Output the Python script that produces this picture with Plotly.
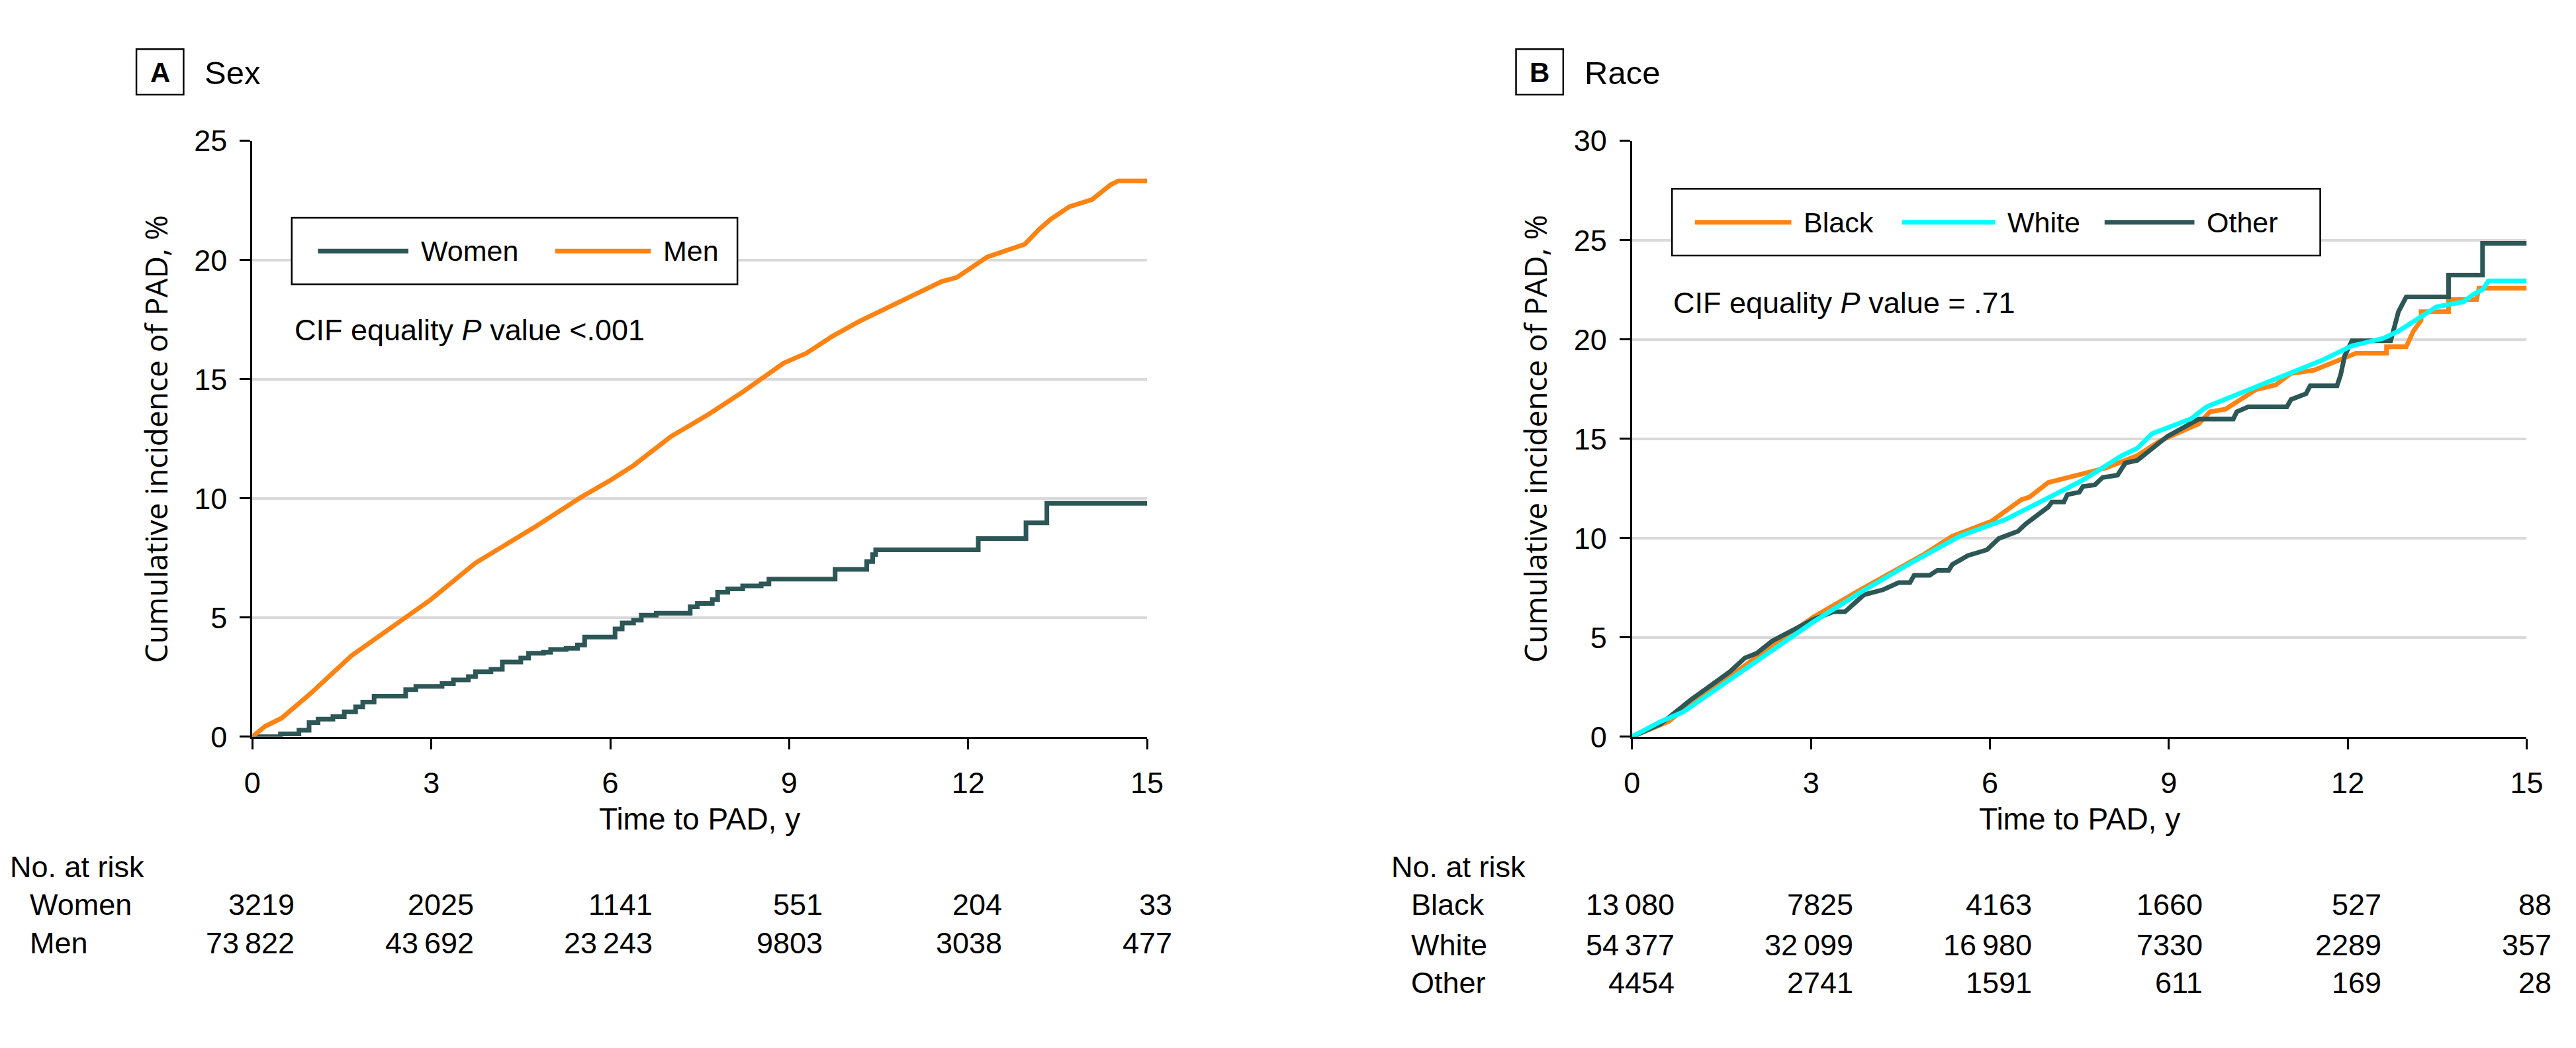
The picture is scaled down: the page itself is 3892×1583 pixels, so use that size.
import plotly.graph_objects as go

# ---------------- data ----------------
women_t = [0, 0.47, 0.78, 0.95, 1.10, 1.35, 1.54, 1.73, 1.85, 2.04, 2.57, 2.74, 3.18, 3.37, 3.62,
           3.74, 4.00, 4.19, 4.50, 4.63, 4.88, 5.00, 5.26, 5.45, 5.57, 6.08, 6.20, 6.39, 6.52, 6.77,
           7.34, 7.46, 7.71, 7.80, 7.97, 8.22, 8.53, 8.66, 9.77, 10.30, 10.40, 10.45, 12.17, 12.97,
           13.32, 15.0]
women_cif = [0, 0.12, 0.27, 0.59, 0.74, 0.84, 1.04, 1.25, 1.45, 1.70, 1.97, 2.11, 2.23, 2.38, 2.52,
             2.72, 2.83, 3.13, 3.30, 3.50, 3.54, 3.66, 3.71, 3.85, 4.18, 4.52, 4.77, 4.89, 5.10, 5.18,
             5.45, 5.59, 5.75, 6.06, 6.20, 6.33, 6.41, 6.61, 7.02, 7.35, 7.64, 7.84, 8.31, 8.97,
             9.79, 9.79]

men_t = [0, 0.21, 0.49, 0.97, 1.66, 2.23, 2.99, 3.74, 4.75, 5.51, 6.01, 6.39, 7.02, 7.65, 8.22,
         8.91, 9.29, 9.73, 10.17, 10.68, 11.56, 11.81, 12.06, 12.32, 12.95, 13.20, 13.39, 13.58,
         13.70, 14.08, 14.39, 14.52, 15.0]
men_cif = [0, 0.43, 0.78, 1.80, 3.40, 4.42, 5.75, 7.29, 8.82, 10.05, 10.77, 11.38, 12.60, 13.53,
           14.46, 15.68, 16.09, 16.81, 17.42, 18.04, 19.10, 19.27, 19.72, 20.13, 20.66, 21.31,
           21.72, 22.03, 22.24, 22.54, 23.16, 23.32, 23.32]

black_t = [0, 0.61, 1.12, 1.51, 2.28, 3.05, 3.83, 4.86, 5.37, 6.02, 6.53, 6.66, 6.98, 7.30, 7.95,
           8.47, 8.85, 9.50, 9.69, 9.95, 10.46, 10.79, 11.04, 11.43, 11.95, 12.14, 12.65, 12.65,
           12.98, 13.10, 13.23, 13.23, 13.69, 13.69, 14.16, 14.20, 15.0]
black_cif = [0, 0.76, 1.99, 2.73, 4.45, 6.04, 7.40, 9.12, 10.10, 10.84, 11.94, 12.06, 12.80, 13.05,
             13.54, 14.15, 14.89, 15.75, 16.36, 16.49, 17.47, 17.71, 18.28, 18.45, 19.07, 19.31,
             19.31, 19.63, 19.63, 20.42, 20.96, 21.40, 21.40, 22.01, 22.01, 22.58, 22.58]

white_t = [0, 0.48, 0.86, 1.51, 2.28, 3.05, 3.83, 4.60, 5.50, 6.28, 6.92, 7.56, 8.21, 8.47, 8.72,
           9.37, 9.63, 10.14, 10.92, 11.56, 12.07, 12.59, 12.85, 13.10, 13.49, 13.94, 14.10, 14.26,
           14.36, 15.0]
white_cif = [0, 0.76, 1.25, 2.60, 4.20, 5.80, 7.27, 8.62, 10.10, 10.96, 11.94, 12.92, 14.15, 14.52,
             15.26, 16.00, 16.61, 17.22, 18.21, 18.94, 19.68, 20.05, 20.42, 20.91, 21.65, 21.89,
             22.26, 22.51, 22.95, 22.95]

other_t = [0, 0.48, 0.99, 1.64, 1.89, 2.09, 2.35, 2.67, 3.05, 3.38, 3.57, 3.89, 4.21, 4.47, 4.66,
           4.73, 4.99, 5.12, 5.31, 5.37, 5.63, 5.95, 6.15, 6.47, 6.60, 6.98, 7.04, 7.24, 7.30, 7.50,
           7.56, 7.76, 7.89, 8.14, 8.27, 8.47, 8.72, 8.98, 9.50, 10.08, 10.14, 10.33, 10.98, 11.05,
           11.30, 11.37, 11.82, 11.88, 11.95, 12.07, 12.72, 12.78, 12.85, 12.98, 13.69, 13.69,
           14.26, 14.26, 15.0]
other_cif = [0, 0.64, 1.87, 3.27, 3.96, 4.20, 4.82, 5.31, 5.92, 6.29, 6.29, 7.15, 7.40, 7.76, 7.76,
             8.13, 8.13, 8.38, 8.38, 8.67, 9.12, 9.41, 9.98, 10.34, 10.71, 11.57, 11.82, 11.82,
             12.19, 12.31, 12.60, 12.68, 13.05, 13.17, 13.78, 13.91, 14.52, 15.13, 15.99, 15.99,
             16.36, 16.61, 16.61, 16.98, 17.27, 17.67, 17.67, 18.21, 19.19, 19.93, 19.93, 20.66,
             21.40, 22.14, 22.14, 23.24, 23.24, 24.84, 24.84]

time_ticks = [0, 3, 6, 9, 12, 15]
sex_groups = ["Women", "Men"]
sex_at_risk = [
    ["3219", "2025", "1141", "551", "204", "33"],
    ["73\u2009822", "43\u2009692", "23\u2009243", "9803", "3038", "477"],
]
race_groups = ["Black", "White", "Other"]
race_at_risk = [
    ["13\u2009080", "7825", "4163", "1660", "527", "88"],
    ["54\u2009377", "32\u2009099", "16\u2009980", "7330", "2289", "357"],
    ["4454", "2741", "1591", "611", "169", "28"],
]

# ---------------- styling ----------------
W, H = 3892, 1583
TEAL = "#2D5656"
ORANGE = "#FF8312"
CYAN = "#00FFFF"
FONT = "Liberation Sans, Arial, sans-serif"
YFONT = "Open Sans, DejaVu Sans, sans-serif"
LW = 7


def px(x):
    return x / W


def py(y):
    return 1 - y / H


fig = go.Figure()
fig.add_trace(go.Scatter(x=women_t, y=women_cif, mode="lines", line=dict(color=TEAL, width=LW, shape="hv"),
                         name="Women", showlegend=False, xaxis="x", yaxis="y"))
fig.add_trace(go.Scatter(x=men_t, y=men_cif, mode="lines", line=dict(color=ORANGE, width=LW),
                         name="Men", showlegend=False, xaxis="x", yaxis="y"))
fig.add_trace(go.Scatter(x=black_t, y=black_cif, mode="lines", line=dict(color=ORANGE, width=LW),
                         name="Black", showlegend=False, xaxis="x2", yaxis="y2"))
fig.add_trace(go.Scatter(x=other_t, y=other_cif, mode="lines", line=dict(color=TEAL, width=LW),
                         name="Other", showlegend=False, xaxis="x2", yaxis="y2"))
fig.add_trace(go.Scatter(x=white_t, y=white_cif, mode="lines", line=dict(color=CYAN, width=LW),
                         name="White", showlegend=False, xaxis="x2", yaxis="y2"))

xaxis_common = dict(range=[0, 15], tickvals=time_ticks, ticks="outside", ticklen=16, tickwidth=3,
                    tickcolor="black", showline=True, linecolor="black", linewidth=3, showgrid=False,
                    zeroline=False, tickfont=dict(family=FONT, size=45, color="black"),
                    ticklabelstandoff=12, fixedrange=True)
yaxis_common = dict(ticks="outside", ticklen=16, tickwidth=3, tickcolor="black", showline=True,
                    linecolor="black", linewidth=3, showgrid=True, gridcolor="#d9d9d9", gridwidth=4,
                    zeroline=False, tickfont=dict(family=FONT, size=45, color="black"),
                    ticklabelstandoff=10, fixedrange=True)

ydom = [py(1124), py(194)]
fig.update_layout(
    width=W, height=H, margin=dict(l=0, r=0, t=0, b=0),
    paper_bgcolor="white", plot_bgcolor="white", showlegend=False,
    xaxis=dict(domain=[px(372), px(1737)], anchor="y", **xaxis_common),
    yaxis=dict(domain=ydom, anchor="x", range=[0, 25], tickvals=[0, 5, 10, 15, 20, 25], **yaxis_common),
    xaxis2=dict(domain=[px(2477), px(3842)], anchor="y2", **xaxis_common),
    yaxis2=dict(domain=ydom, anchor="x2", range=[0, 30], tickvals=[0, 5, 10, 15, 20, 25, 30], **yaxis_common),
)

shapes = []
ann = []


def text(x, y, s, size=45, anchor="left", family=FONT, **kw):
    ann.append(dict(x=px(x), y=py(y), xref="paper", yref="paper", text=s, showarrow=False,
                    xanchor=anchor, yanchor="middle", font=dict(family=family, size=size, color="black"), **kw))


# panel titles
for (x0, letter, title) in [(195, "A", "Sex"), (2300, "B", "Race")]:
    shapes.append(dict(type="rect", xref="paper", yref="paper", x0=px(x0), x1=px(x0 + 72), y0=py(122), y1=py(51),
                       line=dict(color="black", width=2.5), fillcolor="white"))
    text(x0 + 36, 87, "<b>%s</b>" % letter, size=42, anchor="center")
    text(x0 + 102, 88, title, size=49)

# axis titles
for cx in [224, 2328]:
    text(cx, 659, "Cumulative incidence of PAD, %", size=46, anchor="center", family=YFONT, textangle=-90)
for cx in [(372 + 1737) / 2, (2477 + 3842) / 2]:
    text(cx, 1252, "Time to PAD, y", size=46, anchor="center")


# manual legends
def legend(box, items, ymid):
    x0, x1, y0, y1 = box
    shapes.append(dict(type="rect", xref="paper", yref="paper", x0=px(x0), x1=px(x1), y0=py(y1), y1=py(y0),
                       line=dict(color="black", width=2.5), fillcolor="white", layer="above"))
    for (lx0, lx1, col, label) in items:
        shapes.append(dict(type="line", xref="paper", yref="paper", x0=px(lx0), x1=px(lx1), y0=py(ymid), y1=py(ymid),
                           line=dict(color=col, width=LW), layer="above"))
        text(lx1 + 17, ymid, label, size=43)


legend((432, 1112, 314, 418), [(472, 610, TEAL, "Women"), (834, 980, ORANGE, "Men")], 366)
legend((2538, 3527, 269, 373), [(2573, 2720, ORANGE, "Black"), (2889, 3031, CYAN, "White"),
                                (3198, 3335, TEAL, "Other")], 321)

text(434, 489, "CIF equality <i>P</i> value &lt;.001", size=45)
text(2538, 447, "CIF equality <i>P</i> value = .71", size=45)

# risk tables
DIGIT_HALF = 13.2


def risk_table(xref, label_x, head_y, groups, rows, row_ys):
    text(label_x, head_y, "No. at risk", size=45)
    for g, ry in zip(groups, row_ys):
        text(label_x + 30, ry, g, size=45)
    for j, t in enumerate(time_ticks):
        maxd = max(sum(c.isdigit() for c in r[j]) for r in rows)
        for vals, ry in zip(rows, row_ys):
            ann.append(dict(x=t, y=py(ry), xref=xref, yref="paper", text=vals[j], showarrow=False,
                            xanchor="right", yanchor="middle", xshift=DIGIT_HALF * maxd,
                            font=dict(family=FONT, size=45, color="black")))


risk_table("x", 0, 1327, sex_groups, sex_at_risk, [1386, 1446])
risk_table("x2", 2108, 1327, race_groups, race_at_risk, [1386, 1449, 1508])

fig.update_layout(shapes=shapes, annotations=ann)
fig.write_html("out.html", config={"displayModeBar": False},
               post_script="document.body.style.margin='0';document.body.style.overflow='hidden';")
